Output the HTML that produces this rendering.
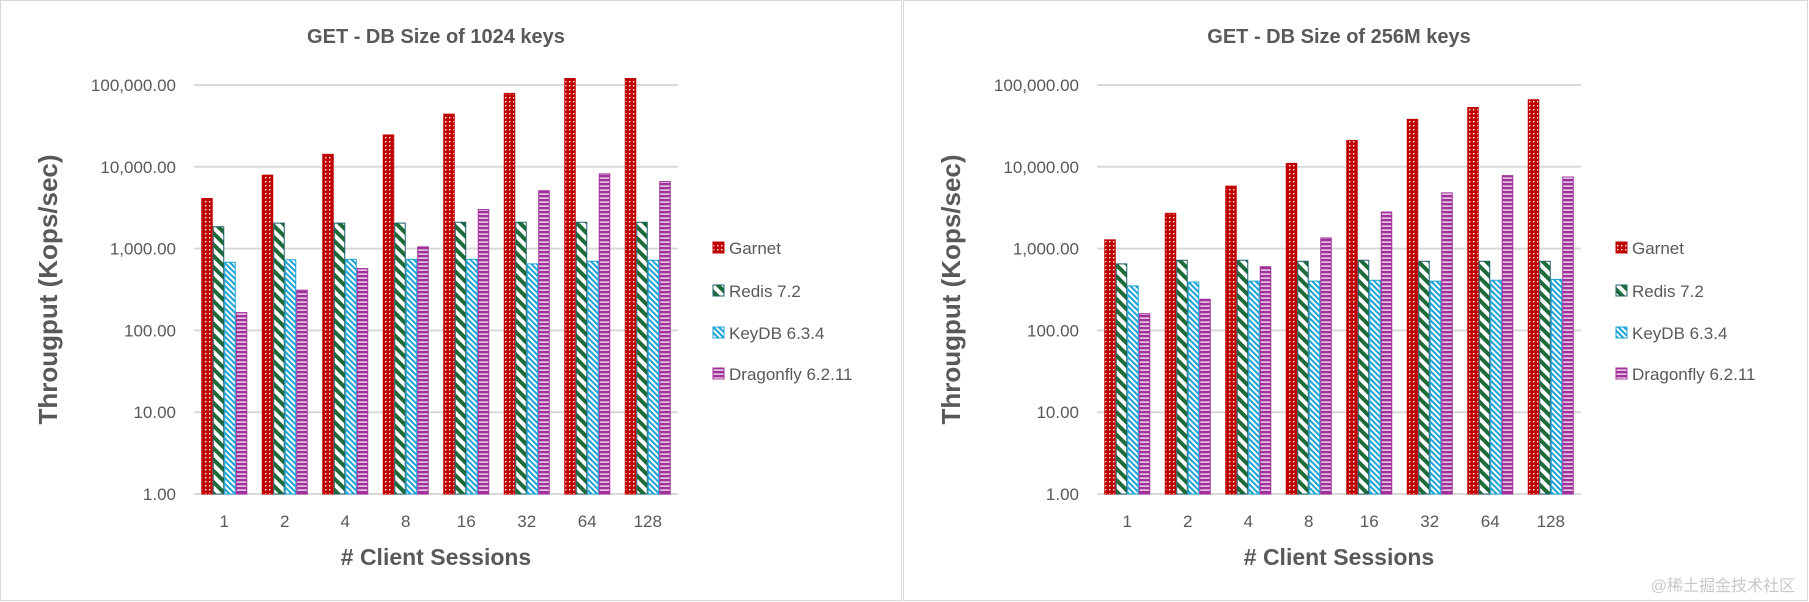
<!DOCTYPE html>
<html><head><meta charset="utf-8">
<style>
html,body{margin:0;padding:0;background:#fff;}
body{width:1809px;height:602px;position:relative;overflow:hidden;font-family:"Liberation Sans","Noto Sans CJK SC",sans-serif;}
svg{position:absolute;left:0;top:0;}
</style></head><body>
<svg id="svg" width="1809" height="602" xmlns="http://www.w3.org/2000/svg">
<defs>
<pattern id="pG" width="4" height="4" patternUnits="userSpaceOnUse"><rect width="4" height="4" fill="#c00000"/><rect x="1" y="1" width="1.4" height="1.4" fill="#fff"/></pattern>
<pattern id="pR" width="8" height="8" patternUnits="userSpaceOnUse" patternTransform="rotate(-45)"><rect width="8" height="8" fill="#fff"/><rect width="4" height="8" fill="#1e6b3a"/></pattern>
<pattern id="pK" width="4" height="4" patternUnits="userSpaceOnUse" patternTransform="rotate(-45)"><rect width="4" height="4" fill="#fff"/><rect width="2" height="4" fill="#1ba3d6"/></pattern>
<pattern id="pD" width="4" height="4" patternUnits="userSpaceOnUse"><rect width="4" height="4" fill="#a0309a"/><rect x="0" y="1.5" width="4" height="1.2" fill="#fff"/></pattern>
</defs>
<rect x="0.5" y="0.5" width="901" height="600" fill="#fff" stroke="#d9d9d9"/>
<rect x="903.5" y="0.5" width="904" height="600" fill="#fff" stroke="#d9d9d9"/>
<text x="1795" y="591" text-anchor="end" font-size="16" fill="#c8c8c8">@稀土掘金技术社区</text>
</svg>
<script>
const categories=["1","2","4","8","16","32","64","128"];
const seriesNames=["Garnet","Redis 7.2","KeyDB 6.3.4","Dragonfly 6.2.11"];
const tickValues=[1,10,100,1000,10000,100000];
const tickLabels=["1.00","10.00","100.00","1,000.00","10,000.00","100,000.00"];
const leftGarnet=[4100,7900,14200,24500,44000,79000,120000,120000];
const leftRedis=[1850,2050,2050,2050,2100,2100,2100,2100];
const leftKeyDB=[680,730,740,740,740,650,700,720];
const leftDragonfly=[165,310,570,1050,3000,5100,8200,6600];
const rightGarnet=[1280,2700,5800,11000,21000,38000,53000,66000];
const rightRedis=[650,720,720,700,720,700,700,700];
const rightKeyDB=[350,390,400,400,410,400,410,420];
const rightDragonfly=[160,240,600,1350,2800,4800,7800,7500];

const NS="http://www.w3.org/2000/svg";
const svg=document.getElementById("svg");
const fills=["url(#pG)","url(#pR)","url(#pK)","url(#pD)"];
const strokes=["#c00000","#1e5f6b","#1ba3d6","#a0309a"];
function el(tag,attrs,parent){const e=document.createElementNS(NS,tag);for(const k in attrs)e.setAttribute(k,attrs[k]);(parent||svg).appendChild(e);return e;}

function drawChart(ox,title,series,prefix){
  const g=el("g",{});
  
  
  const x0=ox+194,x1=ox+678,yTop=85,yBot=494;
  const y=v=>yBot-(Math.log10(v)/5)*(yBot-yTop);
  const t=el("text",{x:(x0+x1)/2,y:43,"text-anchor":"middle","font-size":"20","font-weight":"bold",fill:"#595959"},g);
  t.textContent=title;
  
  
  tickValues.forEach((v,i)=>{
    const ln=el("line",{x1:x0,x2:x1,y1:y(v),y2:y(v),stroke:"#d9d9d9","stroke-width":"2"},g);
    
    
    const tx=el("text",{x:x0-18,y:y(v)+6,"text-anchor":"end","font-size":"17",fill:"#595959"},g);
    tx.textContent=tickLabels[i];
    
    
  });
  const gw=(x1-x0)/categories.length, bw=11.5;
  categories.forEach((c,i)=>{
    const gx=x0+i*gw+(gw-4*bw)/2;
    series.forEach((s,j)=>{
      const yy=y(s[i]);
      const r=el("rect",{x:gx+j*bw+0.5,y:yy,width:bw-1,height:yBot-yy,fill:fills[j],stroke:strokes[j],"stroke-width":"1"},g);
      
      
    });
    const lt=el("text",{x:x0+i*gw+gw/2,y:527,"text-anchor":"middle","font-size":"17",fill:"#595959"},g);
    lt.textContent=c;
    
    
  });
  const xt=el("text",{x:(x0+x1)/2,y:565,"text-anchor":"middle","font-size":"23","font-weight":"bold",fill:"#595959"},g);
  xt.textContent="# Client Sessions";
  
  
  const yt=el("text",{x:0,y:0,"text-anchor":"middle","font-size":"26","font-weight":"bold",fill:"#595959",transform:`translate(${ox+57},${(yTop+yBot)/2}) rotate(-90)`},g);
  yt.textContent="Througput (Kops/sec)";
  
  
  const ly=[248,291,333,374];
  seriesNames.forEach((n,j)=>{
    const lg=el("g",{},g);
    
    
    el("rect",{x:ox+713,y:ly[j]-6,width:11,height:11,fill:fills[j],stroke:strokes[j]},lg);
    const lt=el("text",{x:ox+729,y:ly[j]+6,"font-size":"17",fill:"#595959"},lg);
    lt.textContent=n;
  });
}
drawChart(0,"GET - DB Size of 1024 keys",[leftGarnet,leftRedis,leftKeyDB,leftDragonfly],"left");
drawChart(903,"GET - DB Size of 256M keys",[rightGarnet,rightRedis,rightKeyDB,rightDragonfly],"right");
</script>
</body></html>
